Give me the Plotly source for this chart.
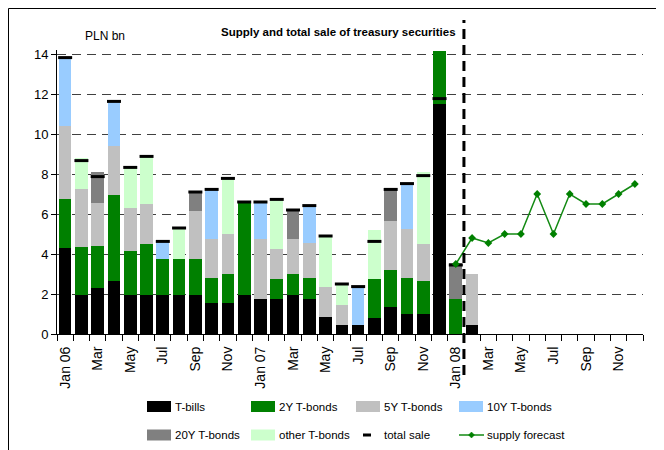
import plotly.graph_objects as go

months = ["Jan 06","Feb 06","Mar 06","Apr 06","May 06","Jun 06","Jul 06","Aug 06","Sep 06","Oct 06","Nov 06","Dec 06",
          "Jan 07","Feb 07","Mar 07","Apr 07","May 07","Jun 07","Jul 07","Aug 07","Sep 07","Oct 07","Nov 07","Dec 07",
          "Jan 08","Feb 08","Mar 08","Apr 08","May 08","Jun 08","Jul 08","Aug 08","Sep 08","Oct 08","Nov 08","Dec 08"]
tick_labels = ["Jan 06","Mar","May","Jul","Sep","Nov","Jan 07","Mar","May","Jul","Sep","Nov",
               "Jan 08","Mar","May","Jul","Sep","Nov"]

t_bills = [4.3,1.95,2.32,2.65,1.95,1.95,1.95,1.95,1.95,1.55,1.55,1.95,
           1.75,1.75,1.95,1.75,0.87,0.47,0.47,0.82,1.37,1.0,1.0,11.5,
           0,0.47,0,0,0,0,0,0,0,0,0,0]
y2 = [2.45,2.4,2.08,4.3,2.2,2.55,1.8,1.8,1.8,1.25,1.45,4.6,
      0,1.0,1.05,1.07,0,0,0,1.93,1.83,1.82,1.67,2.65,
      1.75,0,0,0,0,0,0,0,0,0,0,0]
y5 = [3.65,2.9,2.15,2.45,2.15,2.0,0,0,2.4,1.95,2.02,0,
      3.0,1.5,1.75,1.73,1.5,0.98,0,0,2.45,2.43,1.85,0,
      0,2.53,0,0,0,0,0,0,0,0,0,0]
y10 = [3.43,0,0,2.2,0,0,0.85,0,0,2.45,0,0,
       1.82,0,0,1.82,0,0,1.9,0,0,2.25,0,0,
       0,0,0,0,0,0,0,0,0,0,0,0]
y20 = [0,0,1.55,0,0,0,0,0,0.92,0,0,0,
       0,0,1.42,0,0,0,0,0,1.55,0,0,0,
       1.8,0,0,0,0,0,0,0,0,0,0,0]
other = [0,1.55,0,0,2.0,2.38,0,1.53,0,0,2.73,0,
         0,2.48,0,0,2.5,1.03,0,2.45,0,0,3.58,0,
         0,0,0,0,0,0,0,0,0,0,0,0]
total_sale = [13.82,8.67,7.87,11.63,8.33,8.88,4.63,5.3,7.1,7.23,7.78,6.6,
              6.6,6.73,6.2,6.42,4.9,2.5,2.37,4.63,7.23,7.52,7.92,11.77,
              3.45,None,None,None,None,None,None,None,None,None,None,None]
supply_forecast = [None]*24 + [3.5,4.8,4.55,5.0,5.0,7.0,5.0,7.0,6.5,6.5,7.0,7.5]

series = [("T-bills", t_bills, "#000000"),
          ("2Y T-bonds", y2, "#008000"),
          ("5Y T-bonds", y5, "#C0C0C0"),
          ("10Y T-bonds", y10, "#99CCFF"),
          ("20Y T-bonds", y20, "#808080"),
          ("other T-bonds", other, "#CCFFCC")]

FONT = "Liberation Sans, Arial, sans-serif"
x = list(range(len(months)))

fig = go.Figure()
for name, vals, col in series:
    fig.add_trace(go.Bar(x=x, y=vals, name=name, marker=dict(color=col, line=dict(width=0)),
                         showlegend=False))
fig.add_trace(go.Scatter(x=x, y=total_sale, mode="markers", name="total sale", showlegend=False,
                         marker=dict(symbol="line-ew-open", size=10, color="black",
                                     line=dict(color="black", width=3))))
fig.add_trace(go.Scatter(x=x, y=supply_forecast, mode="lines+markers", name="supply forecast", showlegend=False,
                         line=dict(color="#138a13", width=1.5),
                         marker=dict(symbol="diamond", size=6, color="#008000")))

# page offset (browser body margin)
OFF = 8
FW, FH = 664 - OFF, 450 - OFF
# plot area in page pixels
L, R, T, B = 57, 643, 50, 334
W, H = R - L, B - T
def px(xp): return (xp - L) / W
def py(yp): return (B - yp) / H

shapes = []
annotations = []
# vertical dashed separator
shapes.append(dict(type="line", xref="x", yref="paper", x0=24.5, x1=24.5, y0=py(375), y1=py(20),
                   line=dict(color="black", width=3, dash="10px,6px")))
# outer frame (left and top edges)
shapes.append(dict(type="line", xref="paper", yref="paper", x0=px(OFF + 0.5), x1=px(OFF + 0.5),
                   y0=py(450), y1=py(OFF + 0.5), line=dict(color="black", width=1)))
shapes.append(dict(type="line", xref="paper", yref="paper", x0=px(OFF + 0.5), x1=px(664),
                   y0=py(OFF + 0.5), y1=py(OFF + 0.5), line=dict(color="black", width=1)))

# manual legend
leg = [("T-bills", "#000000", 147, 406.5, "box"),
       ("2Y T-bonds", "#008000", 251, 406.5, "box"),
       ("5Y T-bonds", "#C0C0C0", 356, 406.5, "box"),
       ("10Y T-bonds", "#99CCFF", 459, 406.5, "box"),
       ("20Y T-bonds", "#808080", 147, 435, "box"),
       ("other T-bonds", "#CCFFCC", 251, 435, "box"),
       ("total sale", "black", 356, 435, "dash"),
       ("supply forecast", "#138a13", 459, 435, "line")]
for name, col, x0, yc, kind in leg:
    if kind == "box":
        shapes.append(dict(type="rect", xref="paper", yref="paper", x0=px(x0), x1=px(x0 + 24),
                           y0=py(yc + 5.5), y1=py(yc - 5.5), fillcolor=col, line=dict(width=0)))
    elif kind == "dash":
        shapes.append(dict(type="line", xref="paper", yref="paper", x0=px(x0 + 7), x1=px(x0 + 15),
                           y0=py(yc), y1=py(yc), line=dict(color=col, width=3)))
    else:
        shapes.append(dict(type="line", xref="paper", yref="paper", x0=px(x0), x1=px(x0 + 25),
                           y0=py(yc), y1=py(yc), line=dict(color=col, width=1.5)))
        cx = x0 + 12.5
        path = "M {a},{b} L {c},{d} L {e},{f} L {g},{h} Z".format(
            a=px(cx - 3), b=py(yc), c=px(cx), d=py(yc - 3), e=px(cx + 3), f=py(yc), g=px(cx), h=py(yc + 3))
        shapes.append(dict(type="path", xref="paper", yref="paper", path=path, fillcolor="#008000",
                           line=dict(color="#008000", width=0.5)))
    annotations.append(dict(text=name, xref="paper", yref="paper", x=px(x0 + 26), y=py(yc), xanchor="left",
                            yanchor="middle", showarrow=False, font=dict(size=11.5, color="black", family=FONT)))

annotations.append(dict(text="<b>Supply and total sale of treasury securities</b>", xref="paper", yref="paper",
                        x=px(338), y=py(31.5), xanchor="center", yanchor="middle", showarrow=False,
                        font=dict(size=11.5, color="black", family=FONT)))
annotations.append(dict(text="PLN bn", xref="paper", yref="paper", x=px(105), y=py(36), xanchor="center",
                        yanchor="middle", showarrow=False, font=dict(size=12, color="black", family=FONT)))

fig.update_layout(
    width=FW, height=FH,
    margin=dict(l=L - OFF, r=FW - (R - OFF), t=T - OFF, b=FH - (B - OFF), pad=0),
    barmode="stack", bargap=0.22,
    paper_bgcolor="white", plot_bgcolor="white",
    font=dict(family=FONT, size=12, color="black"),
    shapes=shapes, annotations=annotations, showlegend=False,
    xaxis=dict(range=[-0.5, len(months) - 0.5], tickmode="array", tickvals=list(range(0, len(months), 2)),
               ticktext=tick_labels, tickangle=-90, ticks="", showgrid=False, zeroline=False,
               showline=True, linecolor="black", linewidth=1, tickfont=dict(size=14, family=FONT),
               ticklabelstandoff=6,
               minor=dict(tick0=-0.5, dtick=1, ticks="outside", ticklen=6, tickcolor="black", tickwidth=1,
                          showgrid=False)),
    yaxis=dict(range=[0, 14.2], tickmode="array", tickvals=[0, 2, 4, 6, 8, 10, 12, 14],
               ticks="outside", ticklen=5, tickcolor="black", showline=True, linecolor="black", linewidth=1,
               showgrid=True, gridcolor="#404040", griddash="9px,6px", gridwidth=1, zeroline=False,
               tickfont=dict(size=13, family=FONT)),
)

fig.write_html("out.html")
